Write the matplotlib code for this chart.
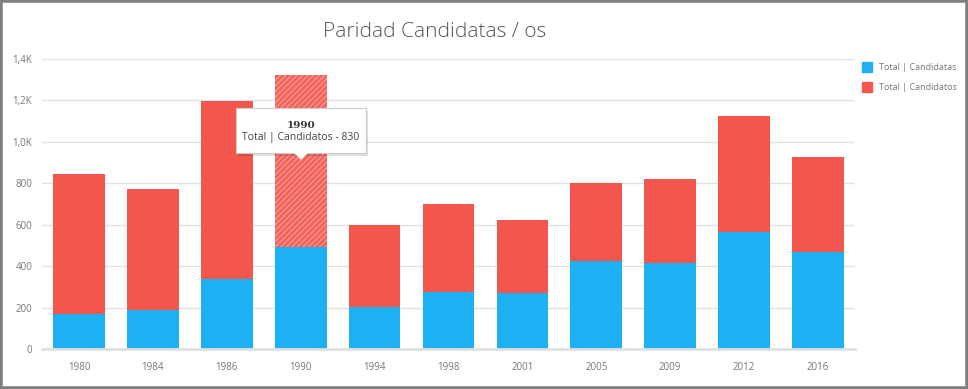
import matplotlib
matplotlib.use("Agg")
import matplotlib.pyplot as plt
from matplotlib.patches import Rectangle, FancyBboxPatch, Polygon
import numpy as np

years = ["1980", "1984", "1986", "1990", "1994", "1998", "2001", "2005", "2009", "2012", "2016"]
candidatas = [169, 189, 337, 491, 203, 273, 268, 423, 413, 566, 468]
candidatos = [675, 584, 859, 830, 396, 429, 356, 377, 410, 557, 458]
yticks = [0, 200, 400, 600, 800, 1000, 1200, 1400]
ytick_labels = ["0", "200", "400", "600", "800", "1,0K", "1,2K", "1,4K"]
series_names = ["Total | Candidatas", "Total | Candidatos"]
highlight = 3  # 1990

BLUE = "#1db1f4"
RED = "#f3564d"
TXT = "#777777"

plt.rcParams["font.family"] = ["Open Sans", "DejaVu Sans"]
plt.rcParams["hatch.linewidth"] = 1.0

fig = plt.figure(figsize=(9.68, 3.89), dpi=100)
W, H = 968, 389
ax = fig.add_axes([42 / W, 1 - 349 / H, (855 - 42) / W, (349 - 59) / H])

x = np.arange(len(years))
ax.bar(x, candidatas, width=0.7, color=BLUE, zorder=2)
for i in range(len(years)):
    if i == highlight:
        ax.bar(x[i], candidatos[i], bottom=candidatas[i], width=0.7,
               color="#f3625a", edgecolor="#f7958f", linewidth=0, hatch="//////", zorder=2)
    else:
        ax.bar(x[i], candidatos[i], bottom=candidatas[i], width=0.7, color=RED, zorder=2)

ax.set_xlim(-0.5, len(years) - 0.5)
ax.set_ylim(0, 1400)
ax.set_yticks(yticks)
ax.set_yticklabels(ytick_labels)
ax.set_xticks(x)
ax.set_xticklabels(years)
ax.tick_params(axis="both", length=0, labelsize=7, labelcolor=TXT)
ax.tick_params(axis="x", pad=9)
ax.tick_params(axis="y", pad=7)
ax.grid(axis="y", color="#e2e2e2", linewidth=1, zorder=0)
ax.set_axisbelow(True)
for s in ["top", "right", "left"]:
    ax.spines[s].set_visible(False)
ax.spines["bottom"].set_color("#e0e0e0")
ax.spines["bottom"].set_linewidth(2)

# Title
fig.text(435 / W, 1 - 32 / H, "Paridad Candidatas / os", ha="center", va="center",
         fontsize=15, color="#555555", fontweight="light")

# Legend
for j, (name, col) in enumerate(zip(series_names, [BLUE, RED])):
    yy = 67 + 20 * j
    fig.patches.append(Rectangle((862 / W, 1 - (yy + 5) / H), 10 / W, 10 / H,
                                 transform=fig.transFigure, color=col, figure=fig))
    fig.text(879 / W, 1 - yy / H, name, ha="left", va="center", fontsize=6.5, color=TXT)

# Tooltip
tx0, ty0, tx1, ty1 = 236, 108, 366, 153
shadow = FancyBboxPatch((tx0 / W + 2 / W, 1 - (ty1 + 3) / H), (tx1 - tx0) / W, (ty1 - ty0) / H,
                        boxstyle="square,pad=0", transform=fig.transFigure,
                        facecolor="#000000", alpha=0.12, edgecolor="none", zorder=5, figure=fig)
fig.patches.append(shadow)
box = FancyBboxPatch((tx0 / W, 1 - ty1 / H), (tx1 - tx0) / W, (ty1 - ty0) / H,
                     boxstyle="square,pad=0", transform=fig.transFigure,
                     facecolor="white", edgecolor="#cccccc", linewidth=0.8, zorder=6, figure=fig)
fig.patches.append(box)
px = 301
tri = Polygon([((px - 7) / W, 1 - (ty1 - 0.5) / H), ((px + 7) / W, 1 - (ty1 - 0.5) / H),
               (px / W, 1 - (ty1 + 7) / H)], closed=True, transform=fig.transFigure,
              facecolor="white", edgecolor="none", zorder=7, figure=fig)
fig.patches.append(tri)
fig.text(px / W, 1 - 125 / H, years[highlight], ha="center", va="center", fontsize=7.5,
         fontweight="bold", color="#333333", family=["DejaVu Serif"], zorder=8)
fig.text(px / W, 1 - 137 / H, f"{series_names[1]} - {candidatos[highlight]}", ha="center",
         va="center", fontsize=7.5, color="#444444", zorder=8)

# Outer frame
fig.patches.append(Rectangle((0, 0), 1, 1, transform=fig.transFigure, fill=False,
                             edgecolor="#7f7f7f", linewidth=4, figure=fig, zorder=10))

fig.savefig("out.png", dpi=100)
